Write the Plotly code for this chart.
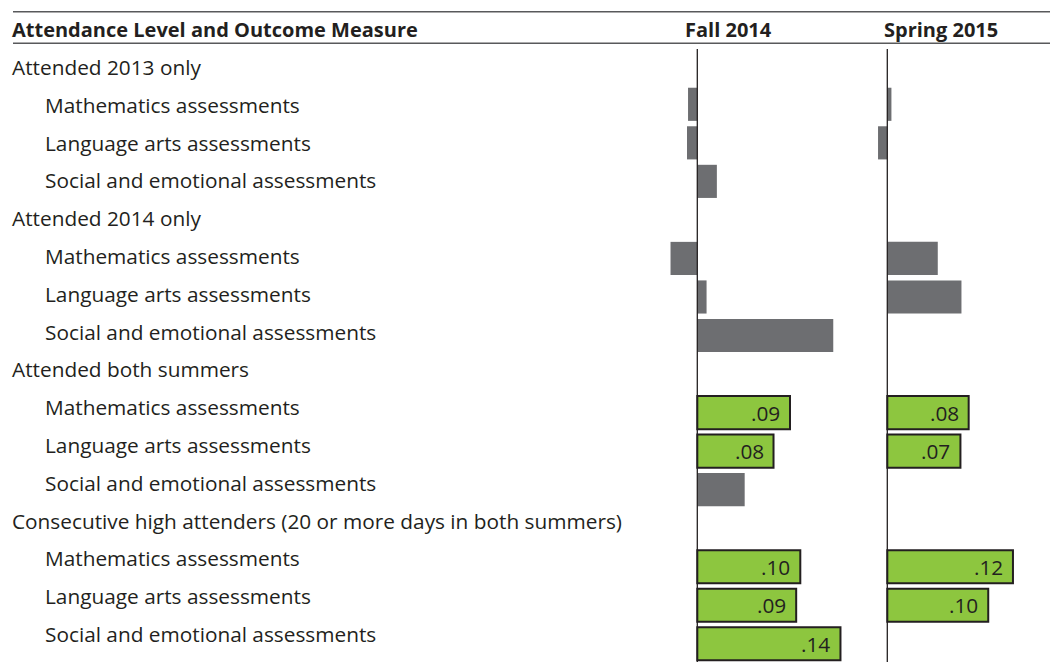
import plotly.graph_objects as go

# ---------------- data ----------------
groups = [
    "Attended 2013 only",
    "Attended 2014 only",
    "Attended both summers",
    "Consecutive high attenders (20 or more days in both summers)",
]
measures = [
    "Mathematics assessments",
    "Language arts assessments",
    "Social and emotional assessments",
]
columns = ["Fall 2014", "Spring 2015"]
header = "Attendance Level and Outcome Measure"

# effect sizes, ordered group by group, measure by measure
fall = [-0.009, -0.010, 0.019, -0.026, 0.009, 0.132, 0.090, 0.074, 0.046, 0.100, 0.096, 0.139]
spring = [0.004, -0.009, None, 0.049, 0.072, None, 0.079, 0.071, None, 0.122, 0.098, None]
# statistically significant (green, labelled)
fall_sig = [False, False, False, False, False, False, True, True, False, True, True, True]
spring_sig = [False, False, False, False, False, False, True, True, False, True, True, False]
fall_text = ["", "", "", "", "", "", ".09", ".08", "", ".10", ".09", ".14"]
spring_text = ["", "", "", "", "", "", ".08", ".07", "", ".12", ".10", ""]

# ---------------- layout constants ----------------
W, H = 1050, 662
GRAY = "#6d6e71"
GREEN = "#8dc63f"
DARK = "#231f20"
RULE = "#58595b"
FONT = "Open Sans"
LAB_SIZE = 20.8
HEAD_SIZE = 20


def px(p):
    return p / W


def py(p):
    return 1 - p / H


# row index for each bar (group header rows take one slot)
rows = [g * 4 + 1 + m for g in range(len(groups)) for m in range(len(measures))]

# pixel geometry of bar rows: row1 centre 104.3, row15 centre 643.8
bar_step = (643.8 - 104.3) / 14
bar_r0 = 104.3 - bar_step
bar_range = [(H - bar_r0) / bar_step, -bar_r0 / bar_step]
# label rows: row0 centre 67, row15 centre 634
lab_step = (634 - 67) / 15
lab_r0 = 67
lab_range = [(H - lab_r0) / lab_step, -lab_r0 / lab_step]

SCALE = 1030.0  # px per unit
fall_zero, spring_zero = 697.3, 887.3
fall_dom = (650, 860)
spring_dom = (865, 1050)


def xr(dom, zero):
    return [(dom[0] - zero) / SCALE, (dom[1] - zero) / SCALE]


fig = go.Figure()


def add_bars(vals, sig, xa):
    for flag, color, lw in [(False, GRAY, 0), (True, GREEN, 2)]:
        xs, ys = [], []
        for v, s, r in zip(vals, sig, rows):
            if v is None or s != flag:
                continue
            xs.append(v)
            ys.append(r)
        fig.add_trace(go.Bar(
            x=xs, y=ys, orientation="h", xaxis=xa, yaxis="y",
            width=0.86, marker=dict(color=color, line=dict(color=DARK, width=lw)),
            showlegend=False, hoverinfo="x",
        ))


add_bars(fall, fall_sig, "x")
add_bars(spring, spring_sig, "x2")

annotations = []
# value labels inside green bars
for vals, texts, xa in [(fall, fall_text, "x"), (spring, spring_text, "x2")]:
    for v, t, r in zip(vals, texts, rows):
        if t and v is not None:
            annotations.append(dict(
                x=v, y=r, xref=xa, yref="y", text=t, showarrow=False,
                xanchor="right", yanchor="middle", xshift=-8,
                font=dict(family=FONT, size=LAB_SIZE, color=DARK),
            ))

# row labels
for g, name in enumerate(groups):
    annotations.append(dict(
        x=px(10), y=g * 4, xref="paper", yref="y3", text=name, showarrow=False,
        xanchor="left", yanchor="middle", font=dict(family=FONT, size=LAB_SIZE, color=DARK),
    ))
    for m, meas in enumerate(measures):
        annotations.append(dict(
            x=px(43), y=g * 4 + 1 + m, xref="paper", yref="y3", text=meas, showarrow=False,
            xanchor="left", yanchor="middle", font=dict(family=FONT, size=LAB_SIZE, color=DARK),
        ))

# header
annotations.append(dict(
    x=px(10), y=-1, xref="paper", yref="y3", text="<b>" + header + "</b>", showarrow=False,
    xanchor="left", yanchor="middle", font=dict(family=FONT, size=HEAD_SIZE, color=DARK),
))
for name, cx in zip(columns, [728.7, 941]):
    annotations.append(dict(
        x=px(cx), y=-1, xref="paper", yref="y3", text="<b>" + name + "</b>", showarrow=False,
        xanchor="center", yanchor="middle", font=dict(family=FONT, size=HEAD_SIZE, color=DARK),
    ))

shapes = [
    dict(type="line", xref="paper", yref="paper", x0=px(13), x1=1, y0=py(11.7), y1=py(11.7),
         line=dict(color=RULE, width=1.5)),
    dict(type="line", xref="paper", yref="paper", x0=px(13), x1=1, y0=py(43.3), y1=py(43.3),
         line=dict(color=RULE, width=1.5)),
    dict(type="line", xref="x", yref="paper", x0=0, x1=0, y0=0, y1=py(49),
         line=dict(color=DARK, width=1.3), layer="above"),
    dict(type="line", xref="x2", yref="paper", x0=0, x1=0, y0=0, y1=py(49),
         line=dict(color=DARK, width=1.3), layer="above"),
]

axis_off = dict(visible=False, showgrid=False, zeroline=False, fixedrange=True)
fig.update_layout(
    width=W, height=H,
    margin=dict(l=0, r=0, t=0, b=0),
    paper_bgcolor="white", plot_bgcolor="rgba(0,0,0,0)",
    barmode="overlay",
    xaxis=dict(domain=[px(fall_dom[0]), px(fall_dom[1])], range=xr(fall_dom, fall_zero), anchor="y", **axis_off),
    xaxis2=dict(domain=[px(spring_dom[0]), px(spring_dom[1])], range=xr(spring_dom, spring_zero), anchor="y", **axis_off),
    yaxis=dict(domain=[0, 1], range=bar_range, **axis_off),
    yaxis3=dict(domain=[0, 1], range=lab_range, overlaying="y", **axis_off),
    annotations=annotations,
    shapes=shapes,
    font=dict(family=FONT, color=DARK),
)

# remove the default page margin so the 1050x662 figure fills the window exactly
fig.write_html(
    "out.html",
    config={"displayModeBar": False},
    post_script="document.body.style.margin='0';document.body.style.overflow='hidden';",
)
